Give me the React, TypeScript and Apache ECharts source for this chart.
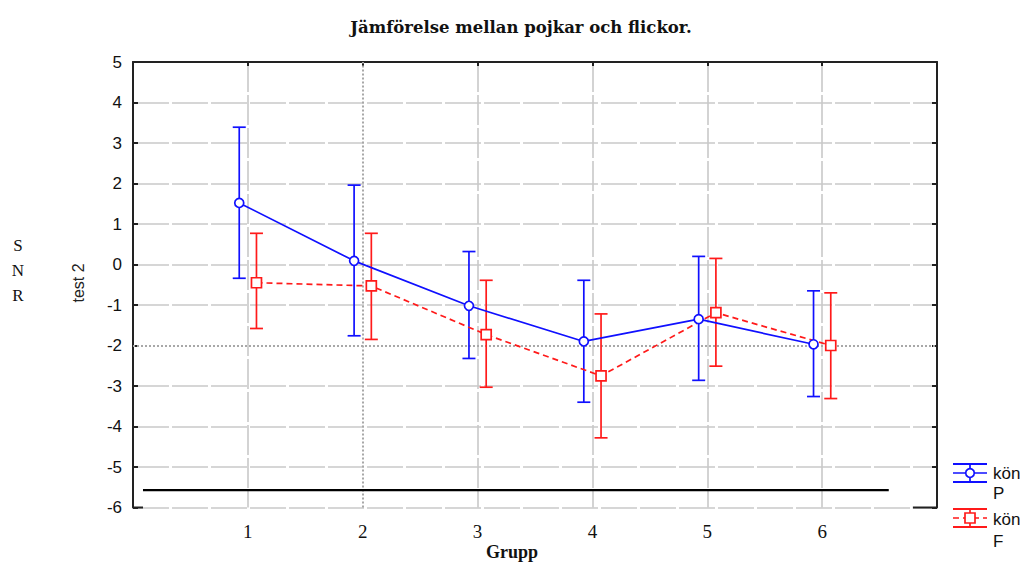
import React, { useEffect, useRef } from "react";
import * as echarts from "echarts";

const groups = [1, 2, 3, 4, 5, 6];
const pMean = [1.52, 0.09, -1.02, -1.9, -1.35, -1.97];
const pUpper = [3.39, 1.96, 0.32, -0.39, 0.2, -0.65];
const pLower = [-0.34, -1.76, -2.32, -3.4, -2.86, -3.26];
const fMean = [-0.45, -0.53, -1.73, -2.75, -1.19, -2.0];
const fUpper = [0.77, 0.77, -0.39, -1.22, 0.15, -0.7];
const fLower = [-1.58, -1.85, -3.03, -4.28, -2.51, -3.31];
const refLineY = -5.57;
const refLineX = [0.087, 6.58];
const yTicks = [-6, -5, -4, -3, -2, -1, 0, 1, 2, 3, 4, 5];

const P_OFF = -0.075;
const F_OFF = 0.075;
const BLUE = "#1010ff";
const RED = "#ff1a1a";
const GRID = "#c9c9c9";

function errRender(color: string) {
  return (params: any, api: any) => {
    const x = api.value(0);
    const lo = api.coord([x, api.value(1)]);
    const hi = api.coord([x, api.value(2)]);
    const h = 6.5;
    const style = { stroke: color, lineWidth: 1.7 };
    return {
      type: "group",
      children: [
        { type: "line", shape: { x1: hi[0], y1: hi[1], x2: lo[0], y2: lo[1] }, style },
        { type: "line", shape: { x1: hi[0] - h, y1: hi[1], x2: hi[0] + h, y2: hi[1] }, style },
        { type: "line", shape: { x1: lo[0] - h, y1: lo[1], x2: lo[0] + h, y2: lo[1] }, style },
      ],
    };
  };
}

export default function App() {
  const ref = useRef<HTMLDivElement>(null);
  useEffect(() => {
    const chart = echarts.init(ref.current!, null, { renderer: "svg" });
    const gridColors = yTicks.map((v) => (v === -2 ? "rgba(0,0,0,0)" : GRID));
    const vColors = [0, 1, 2, 3, 4, 5, 6, 7].map((v) => (v === 2 ? "rgba(0,0,0,0)" : GRID));
    const sans = "Liberation Sans, Arial, sans-serif";
    const serif = "Liberation Serif, Times New Roman, serif";
    const legendIcon = (y: number, color: string, dashed: boolean, symbol: any) => ({
      type: "group",
      children: [
        { type: "line", shape: { x1: 953, y1: y - 9, x2: 987, y2: y - 9 }, style: { stroke: color, lineWidth: 2 } },
        { type: "line", shape: { x1: 953, y1: y + 9, x2: 987, y2: y + 9 }, style: { stroke: color, lineWidth: 2 } },
        { type: "line", shape: { x1: 970, y1: y - 9, x2: 970, y2: y + 9 }, style: { stroke: color, lineWidth: 1.7 } },
        {
          type: "line",
          shape: { x1: 953, y1: y, x2: 987, y2: y },
          style: { stroke: color, lineWidth: 1.7, lineDash: dashed ? [6, 4] : null },
        },
        symbol,
      ],
    });
    chart.setOption({
      animation: false,
      backgroundColor: "#ffffff",
      grid: { left: 133, top: 62, right: 96, bottom: 56.5, containLabel: false },
      xAxis: [
        {
          type: "value",
          min: 0,
          max: 7,
          interval: 1,
          position: "bottom",
          axisLine: { show: false },
          axisTick: { show: false },
          axisLabel: {
            fontFamily: serif,
            fontSize: 19,
            color: "#111",
            margin: 14,
            formatter: (v: number) => (v >= 1 && v <= 6 ? String(v) : ""),
          },
          splitLine: { show: true, lineStyle: { color: vColors, width: 1.6, type: [30, 3] } },
        },
        {
          type: "value",
          min: 0,
          max: 7,
          interval: 1,
          position: "top",
          axisLine: { show: true, onZero: false, lineStyle: { color: "#222", width: 2 } },
          axisTick: { show: true, inside: true, length: 4, lineStyle: { color: "#222", width: 2 } },
          axisLabel: { show: false },
          splitLine: { show: false },
        },
      ],
      yAxis: [
        {
          type: "value",
          min: -6,
          max: 5,
          interval: 1,
          axisLine: { show: true, onZero: false, lineStyle: { color: "#222", width: 2 } },
          axisTick: { show: true, inside: true, length: 5, lineStyle: { color: "#222", width: 2 } },
          axisLabel: { fontFamily: sans, fontSize: 17, color: "#111", margin: 11 },
          splitLine: { show: true, lineStyle: { color: gridColors, width: 1.6, type: [36, 3] } },
        },
        {
          type: "value",
          min: -6,
          max: 5,
          interval: 1,
          position: "right",
          axisLine: { show: true, onZero: false, lineStyle: { color: "#222", width: 2 } },
          axisTick: { show: true, inside: true, length: 5, lineStyle: { color: "#222", width: 2 } },
          axisLabel: { show: false },
          splitLine: { show: false },
        },
      ],
      series: [
        {
          type: "line",
          name: "ref",
          xAxisIndex: 0,
          yAxisIndex: 0,
          data: refLineX.map((x) => [x, refLineY]),
          symbol: "none",
          lineStyle: { color: "#000", width: 2.2 },
          z: 3,
          markLine: {
            silent: true,
            symbol: "none",
            label: { show: false },
            lineStyle: { color: "#a8a8a8", width: 2, type: "dotted" },
            data: [{ yAxis: -2 }, { xAxis: 2 }],
            z: 1,
          },
        },
        {
          type: "line",
          name: "stubL",
          data: [
            [0, -6],
            [0.087, -6],
          ],
          symbol: "none",
          clip: false,
          lineStyle: { color: "#222", width: 2 },
        },
        {
          type: "line",
          name: "stubR",
          data: [
            [6.79, -6],
            [7, -6],
          ],
          symbol: "none",
          clip: false,
          lineStyle: { color: "#222", width: 2 },
        },
        {
          type: "custom",
          name: "P err",
          renderItem: errRender(BLUE),
          data: groups.map((g, i) => [g + P_OFF, pLower[i], pUpper[i]]),
          encode: { x: 0, y: [1, 2] },
          clip: false,
          z: 4,
        },
        {
          type: "custom",
          name: "F err",
          renderItem: errRender(RED),
          data: groups.map((g, i) => [g + F_OFF, fLower[i], fUpper[i]]),
          encode: { x: 0, y: [1, 2] },
          clip: false,
          z: 4,
        },
        {
          type: "line",
          name: "kön P",
          data: groups.map((g, i) => [g + P_OFF, pMean[i]]),
          symbol: "circle",
          symbolSize: 9,
          showAllSymbol: true,
          lineStyle: { color: BLUE, width: 1.7 },
          itemStyle: { color: "#fff", borderColor: BLUE, borderWidth: 1.7 },
          z: 5,
        },
        {
          type: "line",
          name: "kön F",
          data: groups.map((g, i) => [g + F_OFF, fMean[i]]),
          symbol: "rect",
          symbolSize: 10,
          showAllSymbol: true,
          lineStyle: { color: RED, width: 1.7, type: [6, 4] },
          itemStyle: { color: "#fff", borderColor: RED, borderWidth: 1.7 },
          z: 5,
        },
      ],
      graphic: [
        {
          type: "text",
          x: 521,
          y: 27,
          style: {
            text: "Jämförelse mellan pojkar och flickor.",
            font: "bold 16.5px DejaVu Serif, serif",
            fill: "#111",
            align: "center",
            verticalAlign: "middle",
          },
        },
        {
          type: "text",
          x: 512,
          y: 552,
          style: {
            text: "Grupp",
            font: "bold 18px " + serif,
            fill: "#111",
            align: "center",
            verticalAlign: "middle",
          },
        },
        {
          type: "text",
          x: 78,
          y: 283,
          rotation: Math.PI / 2,
          style: {
            text: "test 2",
            font: "16px " + sans,
            fill: "#222",
            align: "center",
            verticalAlign: "middle",
          },
        },
        ...["S", "N", "R"].map((t, i) => ({
          type: "text",
          x: 18,
          y: 245 + i * 25,
          style: { text: t, font: "17px " + serif, fill: "#111", align: "center", verticalAlign: "middle" },
        })),
        legendIcon(473, BLUE, false, {
          type: "circle",
          shape: { cx: 970, cy: 473, r: 4.3 },
          style: { fill: "#fff", stroke: BLUE, lineWidth: 1.7 },
        }),
        legendIcon(518, RED, true, {
          type: "rect",
          shape: { x: 965, y: 513, width: 10, height: 10 },
          style: { fill: "#fff", stroke: RED, lineWidth: 1.7 },
        }),
        {
          type: "text",
          x: 993,
          y: 463,
          style: { text: "kön\nP", font: "17px " + sans, fill: "#111", lineHeight: 20 },
        },
        {
          type: "text",
          x: 993,
          y: 508,
          style: { text: "kön\nF", font: "17px " + sans, fill: "#111", lineHeight: 22 },
        },
      ],
    });
    return () => chart.dispose();
  }, []);
  return (
    <div
      ref={ref}
      style={{ position: "fixed", left: 0, top: 0, width: 1033, height: 564, background: "#fff" }}
    />
  );
}
